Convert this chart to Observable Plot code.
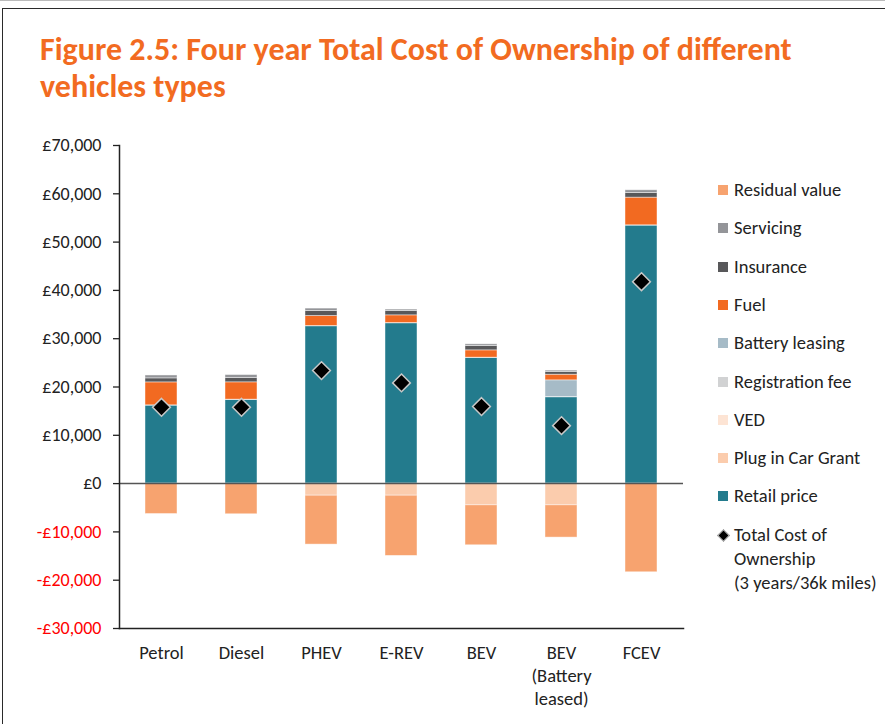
<!DOCTYPE html>
<html>
<head>
<meta charset="utf-8">
<script src="https://cdn.jsdelivr.net/npm/d3@7"></script>
<script src="https://cdn.jsdelivr.net/npm/@observablehq/plot@0.6"></script>
<style>
  html, body { margin: 0; padding: 0; background: #fff; }
  body { width: 885px; height: 724px; position: relative; overflow: hidden; font-family: Carlito, Lato, "Open Sans", sans-serif; }
  #topline { position: absolute; left: 0; top: 0; width: 885px; height: 1px; background: #bbb; }
  #frame { position: absolute; left: 2px; top: 8px; width: 900px; height: 730px; border-top: 1.5px solid #2a2a2a; border-left: 1.5px solid #2a2a2a; z-index: 2; pointer-events: none; }
  #title { position: absolute; left: 40px; top: 31px; width: 840px; font-size: 32px; line-height: 37px; font-weight: bold; color: #F26B21; white-space: nowrap; }
  #chart { position: absolute; left: 0; top: 130px; }
  #legend { position: absolute; left: 718px; top: 178px; font-size: 18.5px; color: #222; }
  .item { position: absolute; left: 0; white-space: nowrap; height: 24px; }
  .sw { position: absolute; left: 0; top: 7px; width: 10px; height: 10px; }
  .lab { position: absolute; left: 16px; top: 0; line-height: 24px; }
  .dia { position: absolute; left: 1px; top: 8px; width: 7px; height: 7px; background: #000; transform: rotate(45deg); border: 0.5px solid #ccc; }
</style>
</head>
<body>
<div id="topline"></div>
<div id="frame"></div>
<div id="title">Figure 2.5: Four year Total Cost of Ownership of different<br>vehicles types</div>
<div id="chart"></div>
<div id="legend"></div>
<script>
const categories = ["Petrol", "Diesel", "PHEV", "E-REV", "BEV", "BEV\n(Battery\nleased)", "FCEV"];
const seriesNames = ["Retail price", "Plug in Car Grant", "VED", "Registration fee", "Battery leasing", "Fuel", "Insurance", "Servicing", "Residual value"];
const seriesColors = ["#237B8D", "#FBCCAD", "#FDE4D4", "#D1D2D3", "#A6BBC7", "#F26A21", "#58585A", "#949599", "#F7A36F"];

const retailPrice     = [16150, 17330, 32570, 33190, 26020, 17870, 53420];
const plugInCarGrant  = [0, 0, -2500, -2500, -4500, -4500, 0];
const ved             = [0, 0, 0, 0, 0, 0, 0];
const registrationFee = [55, 55, 55, 55, 55, 55, 55];
const batteryLeasing  = [0, 0, 0, 0, 0, 3450, 0];
const fuel            = [4750, 3580, 2070, 1590, 1510, 1170, 5730];
const insurance       = [830, 890, 1040, 890, 900, 550, 970];
const servicing       = [600, 620, 500, 300, 350, 290, 550];
const residualValue   = [-6300, -6350, -10130, -12470, -8270, -6680, -18360];
const totalCost       = [15800, 15800, 23400, 20850, 15950, 12000, 41800];

const yTicksPos = [0, 10000, 20000, 30000, 40000, 50000, 60000, 70000];
const yTicksNeg = [-10000, -20000, -30000];

const seriesValues = [retailPrice, plugInCarGrant, ved, registrationFee, batteryLeasing, fuel, insurance, servicing, residualValue];
const rows = [];
seriesNames.forEach((s, si) => {
  categories.forEach((c, ci) => {
    const v = seriesValues[si][ci];
    if (v !== 0) rows.push({category: c, series: s, value: v});
  });
});
const tco = categories.map((c, i) => ({category: c, value: totalCost[i]}));

const fmt = v => (v < 0 ? "-£" : "£") + d3.format(",")(Math.abs(v));

const chart = Plot.plot({
  width: 700,
  height: 594,
  marginLeft: 119,
  marginRight: 17,
  marginTop: 15,
  marginBottom: 96,
  style: {fontFamily: "Carlito, Lato, 'Open Sans', sans-serif", fontSize: "18px", color: "#222", background: "transparent"},
  x: {domain: categories, paddingInner: 0.6, paddingOuter: 0.3, label: null},
  y: {domain: [-30000, 70000], label: null},
  color: {domain: seriesNames, range: seriesColors},
  marks: [
    Plot.barY(rows, {x: "category", y: "value", fill: "series", order: seriesNames, stroke: "white", strokeOpacity: 0.55, strokeWidth: 0.8}),
    Plot.ruleY([0], {stroke: "#555", strokeWidth: 1.5}),
    Plot.dot(tco, {x: "category", y: "value", symbol: "diamond2", r: 8, fill: "black", stroke: "#c8c8c8", strokeWidth: 1.5}),
    Plot.frame({anchor: "left", stroke: "#222", strokeWidth: 1.5}),
    Plot.frame({anchor: "bottom", stroke: "#222", strokeWidth: 1.5}),
    Plot.axisY(yTicksPos, {tickSize: 6, tickPadding: 12, tickFormat: fmt, fill: "#222", stroke: "#222", strokeWidth: 1.3, fontSize: 18}),
    Plot.axisY(yTicksNeg, {tickSize: 6, tickPadding: 12, tickFormat: fmt, fill: "#FF0000", stroke: "#222", strokeWidth: 1.3, fontSize: 18}),
    Plot.axisX({tickSize: 0, tickPadding: 14, lineHeight: 1.25, fill: "#222", fontSize: 18.5, label: null})
  ]
});
document.getElementById("chart").appendChild(chart);

// legend (HTML)
const legendOrder = [...seriesNames].reverse();
const legendColors = [...seriesColors].reverse();
const legend = document.getElementById("legend");
legendOrder.forEach((s, i) => {
  const it = document.createElement("div");
  it.className = "item";
  it.style.top = (i * 38.3) + "px";
  it.innerHTML = `<div class="sw" style="background:${legendColors[i]}"></div><div class="lab">${s}</div>`;
  legend.appendChild(it);
});
const it = document.createElement("div");
it.className = "item";
it.style.top = (9 * 38.3) + "px";
it.innerHTML = `<div class="dia"></div><div class="lab" style="line-height:24px">Total Cost of<br>Ownership<br>(3 years/36k miles)</div>`;
legend.appendChild(it);
</script>
</body>
</html>
